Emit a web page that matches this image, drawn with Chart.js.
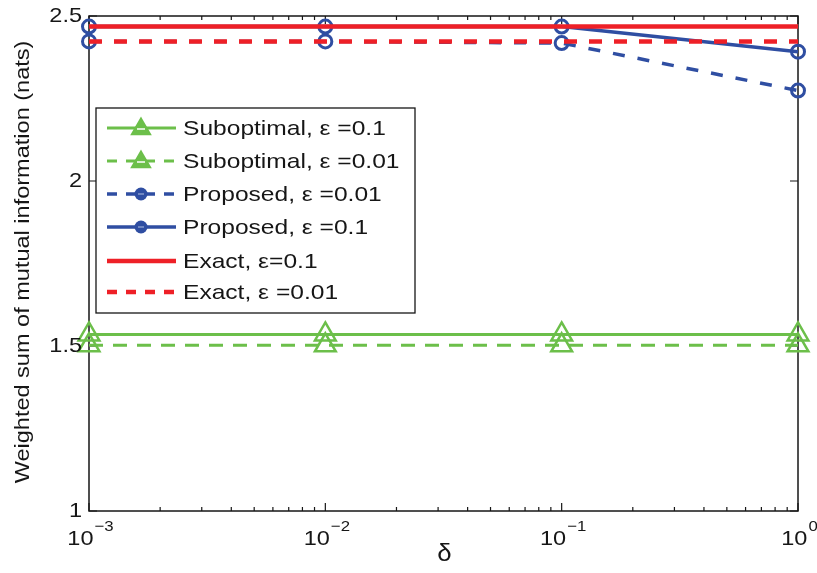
<!DOCTYPE html>
<html>
<head>
<meta charset="utf-8">
<script src="https://cdn.jsdelivr.net/npm/chart.js@4.4.1/dist/chart.umd.min.js"></script>
<style>html,body{margin:0;padding:0;background:#fff}</style>
</head>
<body>
<canvas id="chart" width="817" height="573"></canvas>
<script>
// data
const deltas = [0.001, 0.01, 0.1, 1];
const subopt01 = [1.535, 1.535, 1.535, 1.535];
const subopt001 = [1.502, 1.502, 1.502, 1.502];
const prop001 = [2.423, 2.423, 2.418, 2.274];
const prop01 = [2.468, 2.468, 2.468, 2.392];
const exact01 = [2.468, 2.468, 2.468, 2.468];
const exact001 = [2.423, 2.423, 2.423, 2.423];
const yTicks = [1, 1.5, 2, 2.5];
const xTickExps = [-3, -2, -1, 0];
const labels = ['Suboptimal, \u03b5 =0.1', 'Suboptimal, \u03b5 =0.01', 'Proposed, \u03b5 =0.01',
                'Proposed, \u03b5 =0.1', 'Exact, \u03b5=0.1', 'Exact, \u03b5 =0.01'];

const GREEN = '#6cbf4a', BLUE = '#2f4ea2', RED = '#ee2027', INK = '#161616';
const FONT = '"Liberation Sans", Arial, sans-serif';
const SX = 1.12; // the figure's text is a bit wider than Liberation Sans

const pts = ys => deltas.map((d, i) => ({ x: d, y: ys[i] }));

function ds(label, ys, color, width, dash, style, radius, order) {
    return {
        label, data: pts(ys), borderColor: color, borderWidth: width, borderDash: dash,
        pointStyle: style, pointRadius: radius, pointBorderColor: color,
        pointBorderWidth: style === 'circle' ? 3 : 2.5,
        pointBackgroundColor: 'rgba(0,0,0,0)', tension: 0, clip: false, order
    };
}

const datasets = [
    ds(labels[0], subopt01, GREEN, 3, [], 'triangle', 12, 6),
    ds(labels[1], subopt001, GREEN, 3, [14, 10], 'triangle', 12, 5),
    ds(labels[2], prop001, BLUE, 3.5, [12, 13], 'circle', 6.5, 4),
    ds(labels[3], prop01, BLUE, 3.5, [], 'circle', 6.5, 3),
    ds(labels[4], exact01, RED, 4.5, [], 'circle', 0, 2),
    ds(labels[5], exact001, RED, 4.5, [13, 12], 'circle', 0, 1)
];

function text(ctx, str, x, y, size, align, base, sx) {
    ctx.save();
    ctx.font = size + 'px ' + FONT;
    ctx.textAlign = align || 'left';
    ctx.textBaseline = base || 'alphabetic';
    ctx.translate(x, y);
    ctx.scale(sx || SX, 1);
    ctx.fillText(str, 0, 0);
    ctx.restore();
}

function width(ctx, str, size) {
    ctx.font = size + 'px ' + FONT;
    return ctx.measureText(str).width * SX;
}

const framePlugin = {
    id: 'frame',
    beforeDatasetsDraw(chart) {
        const { ctx, chartArea: a, scales: { x, y } } = chart;
        ctx.save();
        ctx.strokeStyle = INK;
        ctx.lineWidth = 1.5;
        ctx.strokeRect(a.left, a.top, a.right - a.left, a.bottom - a.top);
        ctx.lineWidth = 1.2;
        ctx.beginPath();
        // x ticks, major and minor, inward on bottom and top
        for (let e = -3; e <= 0; e++) {
            for (let m = 1; m <= 9; m++) {
                const v = m * Math.pow(10, e);
                if (v > 1.0001) break;
                const px = x.getPixelForValue(v);
                const len = m === 1 ? 8 : 4;
                ctx.moveTo(px, a.bottom); ctx.lineTo(px, a.bottom - len);
                ctx.moveTo(px, a.top); ctx.lineTo(px, a.top + len);
            }
        }
        yTicks.forEach(v => {
            const py = y.getPixelForValue(v);
            ctx.moveTo(a.left, py); ctx.lineTo(a.left + 8, py);
            ctx.moveTo(a.right, py); ctx.lineTo(a.right - 8, py);
        });
        ctx.stroke();
        ctx.restore();
    },
    afterDraw(chart) {
        const { ctx, chartArea: a, scales: { x, y } } = chart;
        ctx.save();
        ctx.fillStyle = INK;
        // y tick labels
        yTicks.forEach(v => text(ctx, String(v), 82, y.getPixelForValue(v), 21, 'right', 'middle'));
        // x tick labels with superscript exponents
        xTickExps.forEach(e => {
            const px = x.getPixelForValue(Math.pow(10, e));
            const exp = (e < 0 ? '\u2212' : '') + Math.abs(e);
            const w1 = width(ctx, '10', 21), w2 = width(ctx, exp, 15);
            const x0 = px - (w1 + w2) / 2 + 1;
            text(ctx, '10', x0, 545, 21);
            text(ctx, exp, x0 + w1 + 1, 531, 15);
        });
        // axis titles
        text(ctx, '\u03b4', (a.left + a.right) / 2 + 1, 561, 23, 'center');
        ctx.save();
        ctx.translate(23, 262);
        ctx.rotate(-Math.PI / 2);
        text(ctx, 'Weighted sum of mutual information (nats)', 0, 0, 21, 'center', 'middle');
        ctx.restore();

        // legend box
        const bx = 96, by = 108, bw = 319, bh = 205;
        ctx.fillStyle = '#fff';
        ctx.fillRect(bx, by, bw, bh);
        ctx.strokeStyle = INK;
        ctx.lineWidth = 1.3;
        ctx.strokeRect(bx, by, bw, bh);
        const rowY = [128, 161, 194, 227, 261, 292];
        chart.data.datasets.forEach((d, i) => {
            const yy = rowY[i];
            ctx.save();
            ctx.strokeStyle = d.borderColor;
            ctx.lineWidth = d.borderWidth;
            ctx.setLineDash(d.borderDash.length ? [10, 9] : []);
            ctx.beginPath();
            ctx.moveTo(107, yy); ctx.lineTo(176, yy);
            ctx.stroke();
            ctx.setLineDash([]);
            if (d.pointRadius > 0) {
                ctx.lineWidth = 2.5;
                if (d.pointStyle === 'triangle') {
                    ctx.fillStyle = d.borderColor;
                    Chart.helpers.drawPoint(ctx, { pointStyle: 'triangle', radius: 10, borderWidth: 2.5 }, 141, yy + 1);
                    ctx.fill();
                    ctx.strokeStyle = '#fff';
                    ctx.lineWidth = 1.5;
                    ctx.beginPath();
                    ctx.moveTo(137, yy + 1); ctx.lineTo(145, yy + 1);
                    ctx.stroke();
                } else {
                    ctx.fillStyle = d.borderColor;
                    ctx.beginPath();
                    ctx.arc(141, yy, 6.5, 0, Math.PI * 2);
                    ctx.fill();
                    ctx.strokeStyle = '#9fb0d8';
                    ctx.lineWidth = 1.2;
                    ctx.beginPath();
                    ctx.moveTo(138, yy); ctx.lineTo(144, yy);
                    ctx.stroke();
                }
            }
            ctx.restore();
            ctx.fillStyle = INK;
            text(ctx, d.label, 183, yy + 1, 21, 'left', 'middle', 1.17);
        });
        ctx.restore();
    }
};

new Chart(document.getElementById('chart'), {
    type: 'line',
    data: { datasets },
    options: {
        responsive: false,
        animation: false,
        layout: { padding: { top: 16, right: 19, left: 0, bottom: 0 } },
        plugins: { legend: { display: false }, tooltip: { enabled: false } },
        scales: {
            x: {
                type: 'logarithmic', min: 0.001, max: 1,
                ticks: { display: false },
                grid: { display: false }, border: { display: false },
                afterFit: s => { s.height = 62; }
            },
            y: {
                type: 'linear', min: 1, max: 2.5,
                ticks: { display: false },
                grid: { display: false }, border: { display: false },
                afterFit: s => { s.width = 89; }
            }
        }
    },
    plugins: [framePlugin]
});
</script>
</body>
</html>
